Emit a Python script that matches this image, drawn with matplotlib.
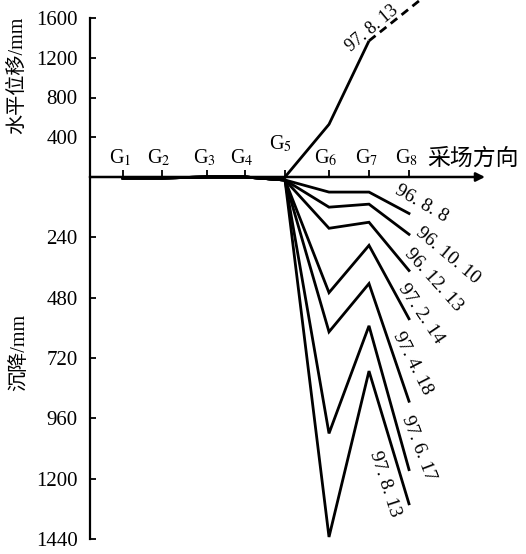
import matplotlib
matplotlib.use("Agg")
import matplotlib.pyplot as plt

plt.rcParams['font.family'] = ['Liberation Serif', 'Noto Sans CJK SC']
plt.rcParams['mathtext.fontset'] = 'stix'

# station names and distances along the line (relative units)
stations = ['G$_1$', 'G$_2$', 'G$_3$', 'G$_4$', 'G$_5$', 'G$_6$', 'G$_7$', 'G$_8$']
station_x = [33, 72, 117, 155, 195, 239, 279, 319]

# horizontal displacement (mm), survey 97.8.13, from G5 onward
hd_x = [195, 239, 279]
hd_val = [0, 530, 1370]
hd_dash_x = [279, 330]
hd_dash_val = [1370, 1780]

# settlement (mm) at G1..G8 for each survey
dates = ['96. 8. 8', '96. 10. 10', '96. 12. 13', '97. 2. 14',
         '97. 4. 18', '97. 6. 17', '97. 8. 13']
settlement = [
    [4, 4, 0, 0, 12, 60, 60, 145],
    [4, 4, 0, 0, 12, 120, 108, 228],
    [4, 4, 0, 0, 12, 204, 180, 372],
    [4, 4, 0, 0, 12, 460, 272, 564],
    [4, 4, 0, 0, 12, 616, 424, 892],
    [4, 4, 0, 0, 12, 1020, 592, 1164],
    [4, 4, 0, 0, 12, 1432, 772, 1300],
]
hd_ticks = [400, 800, 1200, 1600]
st_ticks = [240, 480, 720, 960, 1200, 1440]

fig = plt.figure(figsize=(5.26, 5.54), dpi=100)
W, H = 526, 554
left = 90 / W
width = 395 / W
ax_top = fig.add_axes([left, (H - 177) / H, width, (177 - 18) / H])
ax_bot = fig.add_axes([left, (H - 539) / H, width, (539 - 177) / H], sharex=ax_top)

for ax in (ax_top, ax_bot):
    for s in ('top', 'right', 'bottom'):
        ax.spines[s].set_visible(False)
    ax.spines['left'].set_linewidth(1.6)
    ax.patch.set_alpha(0)
    ax.tick_params(axis='y', direction='in', length=4, width=1.3, labelsize=15, pad=9)

ax_top.set_xlim(0, 395)
ax_top.set_ylim(0, 1600)
ax_top.set_yticks(hd_ticks)
ax_bot.set_ylim(1440, 0)
ax_bot.set_yticks(st_ticks)

ax_top.set_xticks(station_x)
ax_top.tick_params(axis='x', direction='in', length=5, width=1.3, labelbottom=False)
ax_bot.tick_params(axis='x', bottom=False, labelbottom=False)

# horizontal axis arrow
ax_bot.annotate('', xy=(395, 0), xytext=(0, 0), xycoords='data',
                arrowprops=dict(arrowstyle='-|>', lw=1.8, color='k', mutation_scale=13,
                                shrinkA=0, shrinkB=0), annotation_clip=False)

# station labels
for name, x in zip(stations, station_x):
    dy = 16 if name == 'G$_5$' else 6
    dx = -3 if name == 'G$_5$' else -2
    ax_top.annotate(name, xy=(x, 0), xytext=(dx, dy), textcoords='offset points',
                    ha='center', va='bottom', fontsize=14.5)
ax_top.text(0.853, 0.045, '采场方向', transform=ax_top.transAxes, fontsize=16.5,
            ha='left', va='bottom', family=['Noto Sans CJK SC'])

# horizontal displacement
ax_top.plot(hd_x, hd_val, color='k', lw=2, clip_on=False, solid_capstyle='butt')
ax_top.plot(hd_dash_x, hd_dash_val, color='k', lw=2, ls=(0, (3, 2)), clip_on=False)
ax_top.text(282, 1500, '97. 8. 13', rotation=40, rotation_mode='anchor',
            ha='center', va='center', fontsize=13, clip_on=False)

# settlement lines
for vals in settlement:
    ax_bot.plot(station_x, vals, color='k', lw=2, clip_on=False, solid_joinstyle='miter')

label_pos = [(331, 108, -30), (358, 312, -40), (343, 408, -48), (331, 544, -56),
             (322, 740, -63), (328, 1080, -69), (295, 1220, -72)]
for d, (lx, ly, rot) in zip(dates, label_pos):
    ax_bot.text(lx, ly, d, rotation=rot, rotation_mode='anchor', ha='center',
                va='center', fontsize=14, clip_on=False)

fig.text(18 / W, 1 - 75 / H, '水平位移/mm', rotation=90, ha='center', va='center',
         fontsize=14.5)
fig.text(20 / W, 1 - 352 / H, '沉降/mm', rotation=90, ha='center', va='center',
         fontsize=14.5)

fig.savefig('out.png', dpi=100)
